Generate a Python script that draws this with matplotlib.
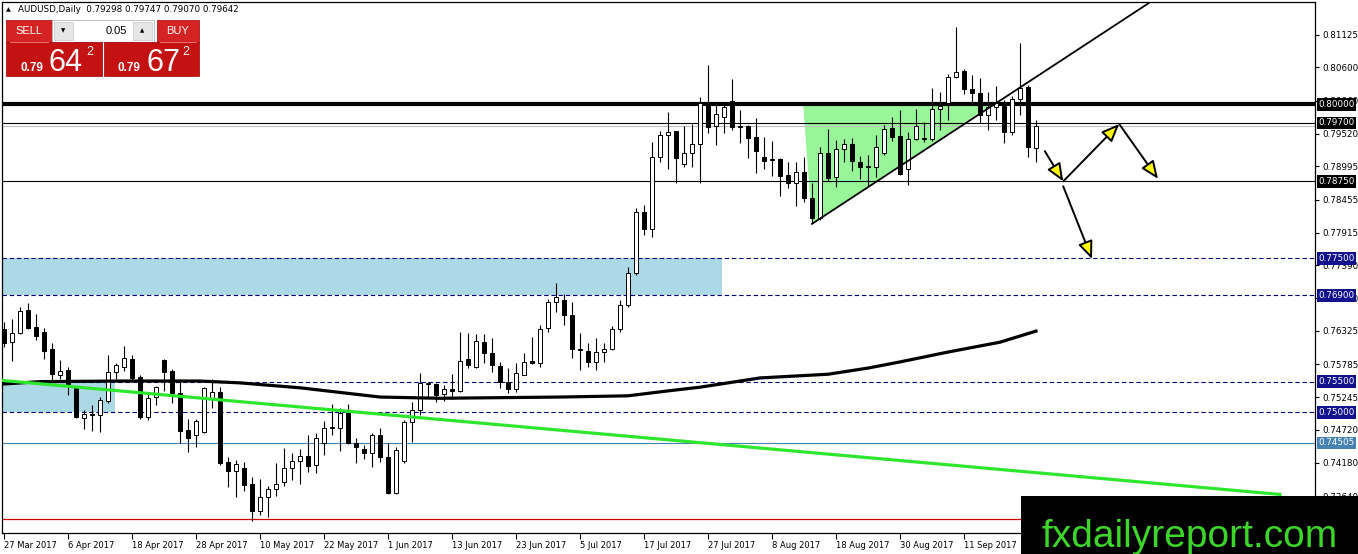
import matplotlib
matplotlib.use('Agg')
import matplotlib.pyplot as plt
import matplotlib.patches as patches
from matplotlib import font_manager
import numpy as np

# daily AUDUSD bars, 27 Mar 2017 .. 22 Sep 2017
OPEN = [.7636, .7614, .7629, .7666, .7639, .7631, .7603, .7561, .7569, .7541,
        .7491, .7498, .7496, .7519, .7566, .7574, .7587, .7558, .7493, .7525,
        .7585, .7567, .7532, .7472, .7464, .7468, .7524, .7533, .7420, .7405,
        .7410, .7384, .7340, .7363, .7376, .7387, .7410, .7421, .7429, .7415,
        .7451, .7475, .7475, .7499, .7451, .7441, .7434, .7464, .7428, .7369,
        .7421, .7485, .7504, .7546, .7546, .7530, .7538, .7535, .7587, .7574,
        .7614, .7597, .7576, .7550, .7538, .7561, .7584, .7580, .7637, .7680,
        .7683, .7658, .7603, .7600, .7582, .7598, .7603, .7636, .7674, .7726,
        .7825, .7798, .7915, .7950, .7956, .7903, .7921, .7936, .8002, .7965,
        .7980, .8005, .7965, .7965, .7947, .7915, .7912, .7912, .7885, .7872,
        .7890, .7848, .7816, .7921, .7882, .7928, .7936, .7906, .7899, .7898,
        .7921, .7962, .7949, .7895, .7944, .7945, .7943, .7992, .8002, .8044,
        .8054, .8025, .8018, .7983, .7996, .7997, .7955, .8009, .8028, .79298]
HIGH = [.7647, .7652, .7671, .7678, .7660, .7637, .7613, .7585, .7574, .7543,
        .7504, .7512, .7525, .7593, .7580, .7608, .7593, .7560, .7530, .7543,
        .7587, .7570, .7554, .7489, .7490, .7541, .7554, .7541, .7428, .7423,
        .7420, .7395, .7392, .7381, .7418, .7442, .7434, .7441, .7464, .7467,
        .7486, .7514, .7507, .7514, .7459, .7447, .7467, .7475, .7451, .7444,
        .7488, .7517, .7564, .7550, .7547, .7544, .7562, .7631, .7629, .7627,
        .7627, .7621, .7582, .7572, .7580, .7597, .7623, .7642, .7684, .7710,
        .7692, .7679, .7629, .7613, .7621, .7613, .7640, .7683, .7736, .7832,
        .7837, .7939, .7957, .7988, .7957, .7965, .7968, .8012, .8064, .8004,
        .8002, .8041, .7991, .7966, .7978, .7947, .7941, .7913, .7907, .7907,
        .7915, .7872, .7931, .7960, .7942, .7944, .7945, .7916, .7918, .7950,
        .7966, .7980, .7991, .7955, .7992, .7971, .8027, .8020, .8049, .8125,
        .8057, .8048, .8043, .8020, .8029, .8007, .8014, .8100, .8031, .79747]
LOW = [.7606, .7584, .7627, .7635, .7618, .7587, .7550, .7554, .7528, .7491,
       .7473, .7470, .7468, .7515, .7554, .7567, .7553, .7489, .7488, .7512,
       .7535, .7515, .7451, .7436, .7444, .7466, .7507, .7415, .7379, .7363,
       .7373, .7324, .7334, .7331, .7365, .7381, .7391, .7384, .7403, .7402,
       .7431, .7464, .7438, .7449, .7418, .7425, .7412, .7420, .7368, .7367,
       .7418, .7452, .7496, .7525, .7517, .7518, .7522, .7533, .7572, .7572,
       .7580, .7566, .7540, .7532, .7533, .7560, .7579, .7574, .7630, .7663,
       .7642, .7588, .7569, .7574, .7569, .7582, .7601, .7631, .7671, .7723,
       .7788, .7785, .7906, .7895, .7872, .7898, .7898, .7872, .7954, .7934,
       .7954, .7958, .7937, .7913, .7889, .7895, .7884, .7851, .7864, .7835,
       .7842, .7808, .7813, .7876, .7866, .7906, .7892, .7879, .7866, .7882,
       .7918, .7940, .7885, .7869, .7942, .7939, .7940, .7958, .7975, .8042,
       .8017, .8004, .7970, .7958, .7975, .7937, .7950, .7983, .7914, .79070]
CLOSE = [.7613, .7629, .7665, .7637, .7624, .7600, .7563, .7567, .7546, .7493,
         .7498, .7496, .7520, .7566, .7577, .7588, .7556, .7493, .7524, .7541,
         .7566, .7532, .7470, .7459, .7486, .7540, .7533, .7418, .7405, .7416,
         .7382, .7340, .7363, .7376, .7384, .7410, .7421, .7429, .7413, .7459,
         .7475, .7476, .7499, .7451, .7444, .7434, .7464, .7428, .7369, .7439,
         .7485, .7504, .7548, .7548, .7528, .7538, .7535, .7584, .7577, .7616,
         .7597, .7577, .7550, .7538, .7564, .7582, .7580, .7636, .7679, .7687,
         .7658, .7603, .7602, .7582, .7598, .7603, .7636, .7674, .7726, .7825,
         .7798, .7915, .7950, .7955, .7913, .7921, .7936, .8002, .7963, .7984,
         .7996, .7963, .7963, .7945, .7924, .7908, .7910, .7884, .7872, .7890,
         .7848, .7816, .7921, .7880, .7928, .7936, .7908, .7898, .7900, .7931,
         .7960, .7947, .7887, .7944, .7965, .7943, .7992, .7997, .8044, .8052,
         .8025, .8018, .7983, .7996, .8002, .7955, .8009, .8027, .7930, .79642]

DATE_LABELS = ['27 Mar 2017', '6 Apr 2017', '18 Apr 2017', '28 Apr 2017',
               '10 May 2017', '22 May 2017', '1 Jun 2017', '13 Jun 2017',
               '23 Jun 2017', '5 Jul 2017', '17 Jul 2017', '27 Jul 2017',
               '8 Aug 2017', '18 Aug 2017', '30 Aug 2017', '11 Sep 2017']
PRICE_TICKS = [0.81125, 0.80600, 0.80060, 0.79520, 0.78995, 0.78455, 0.77915,
               0.77390, 0.76850, 0.76325, 0.75785, 0.75245, 0.74720, 0.74180,
               0.73640]

# moving average (bar index, value)
MA_X = [-0.25, 4.5, 14.5, 24.5, 29.5, 37, 47, 54.5, 69.5, 78, 83, 87, 94.5,
        103, 108, 112, 118, 124.5, 129]
MA_Y = [0.7546, 0.7550, 0.7551, 0.7551, 0.7548, 0.7540, 0.7525, 0.7523,
        0.7525, 0.7527, 0.7535, 0.7541, 0.7556, 0.7562, 0.7572, 0.7582,
        0.7598, 0.7614, 0.7632]

GREEN_TREND = ([-0.25, 159.5], [0.7552, 0.7367])
BLACK_TREND = ([101, 148], [0.7806, 0.8206])
TRIANGLE = [(99.9, 0.8000), (101, 0.7806), (123.5, 0.8000)]
ARROWS = [((130.1, 0.7924), (132.4, 0.7875)),
          ((132.4, 0.7875), (139.4, 0.7968)),
          ((139.4, 0.7968), (144.25, 0.7879)),
          ((132.4, 0.7867), (136.0, 0.7749))]

ZONE_HI = (-0.25, 89.75, 0.7690, 0.7750)
ZONE_LO = (-0.25, 13.875, 0.7500, 0.7550)

LEVEL_LABELS = [(0.80000, 'black'), (0.79700, 'black'), (0.78750, 'black'),
                (0.77500, '#12128f'), (0.76900, '#12128f'),
                (0.75500, '#12128f'), (0.75000, '#12128f'),
                (0.74505, '#4682b4')]

W, H = 1358, 554
FONT = 'DejaVu Sans'

fig = plt.figure(figsize=(W / 100, H / 100), dpi=100)
fig.patch.set_facecolor('white')
ax = fig.add_axes([2 / W, 1 - 533 / H, 1313 / W, 531 / H])
ax.set_xlim(-0.25, 163.875)
ax.set_ylim(0.73044, 0.81660)

# zones
for x0, x1, y0, y1 in (ZONE_HI, ZONE_LO):
    ax.add_patch(patches.Rectangle((x0, y0), x1 - x0, y1 - y0,
                                   fc='#add8e6', ec='none', zorder=0.5))
ax.add_patch(patches.Polygon(TRIANGLE, closed=True, fc='#98f598', ec='none',
                             zorder=0.6))

# horizontal levels
dash = (0, (4, 2.5))
ax.axhline(0.8000, color='black', lw=3.0, zorder=2)
ax.axhline(0.7970, color='black', lw=0.8, zorder=2)
ax.axhline(CLOSE[-1], color='#c0c0c0', lw=0.8, zorder=1.5)
ax.axhline(0.7875, color='black', lw=0.8, zorder=2)
for lv in (0.7750, 0.7690, 0.7550, 0.7500):
    ax.axhline(lv, color='#000080', lw=0.8, ls=dash, zorder=2)
ax.axhline(0.74505, color='#4682b4', lw=0.8, zorder=2)
ax.axhline(0.7327, color='#cc0000', lw=0.9, zorder=2)

# candles
o = np.array(OPEN)
c = np.array(CLOSE)
idx = np.arange(len(o))
up = c >= o
ax.vlines(idx, LOW, HIGH, color='black', lw=0.8, zorder=3)
body_lo = np.minimum(o, c)
body_h = np.maximum(np.abs(c - o), 0.00004)
ax.bar(idx, body_h, bottom=body_lo, width=0.6,
       color=np.where(up, 'white', 'black'), edgecolor='black', lw=0.7,
       zorder=4)

# trend lines and moving average
ax.plot(MA_X, MA_Y, color='black', lw=2.3, zorder=5)
ax.plot(*GREEN_TREND, color='#2ee62e', lw=2.3, zorder=5)
ax.plot(*BLACK_TREND, color='black', lw=1.3, zorder=5)

for a, b in ARROWS:
    ax.add_patch(patches.FancyArrowPatch(
        a, b, arrowstyle='-|>,head_length=0.6,head_width=0.25',
        mutation_scale=18, fc='#ffff00', ec='black', lw=1.4,
        shrinkA=0, shrinkB=0, zorder=6))

# axes styling
for sp in ax.spines.values():
    sp.set_color('black')
    sp.set_linewidth(0.9)
ax.yaxis.tick_right()
ax.set_yticks(PRICE_TICKS)
ax.set_yticklabels(['{:.5f}'.format(v) for v in PRICE_TICKS])
ax.tick_params(axis='y', direction='out', length=3, width=0.8, pad=2,
               labelsize=6.3)
ax.set_xticks(np.arange(0, 8 * len(DATE_LABELS), 8))
ax.set_xticklabels(DATE_LABELS)
ax.tick_params(axis='x', direction='out', length=4, width=0.8, pad=2,
               labelsize=6.0)
for lb in ax.get_xticklabels():
    lb.set_horizontalalignment('left')
    lb.set_fontfamily(FONT)
for lb in ax.get_yticklabels():
    lb.set_fontfamily(FONT)

for val, col in LEVEL_LABELS:
    ax.text(1.0025, val, '{:.5f}'.format(val), transform=ax.get_yaxis_transform(),
            ha='left', va='center', color='white', fontsize=6.3, family=FONT,
            clip_on=False, zorder=7,
            bbox=dict(boxstyle='square,pad=0.2', fc=col, ec='none'))


# figure-level widgets (pixel helpers)
def fx(x):
    return x / W


def fy(y):
    return 1 - y / H


def box(x0, y0, x1, y1, **kw):
    fig.add_artist(patches.Rectangle((fx(x0), fy(y1)), (x1 - x0) / W,
                                     (y1 - y0) / H, transform=fig.transFigure,
                                     zorder=10, **kw))


fig.text(fx(6), fy(10), '\u25b2', fontsize=4.5, va='center', family=FONT)
fig.text(fx(18), fy(10), 'AUDUSD,Daily  0.79298 0.79747 0.79070 0.79642',
         fontsize=6.3, va='center', family=FONT)

PANEL = 'Liberation Sans'
red_top = '#d52222'
red_low = '#c41212'
box(6, 20, 52, 42, fc=red_top, ec='#a00000', lw=0.5)
box(157, 20, 199, 42, fc=red_top, ec='#a00000', lw=0.5)
box(52, 20, 154, 42, fc='white', ec='#b8b8b8', lw=0.6)
box(54, 22, 73, 40, fc='#e6e6e6', ec='#c8c8c8', lw=0.5)
box(133, 22, 152, 40, fc='#e6e6e6', ec='#c8c8c8', lw=0.5)
box(6, 42, 102, 76, fc=red_low, ec='#a00000', lw=0.5)
box(104, 42, 199, 76, fc=red_low, ec='#a00000', lw=0.5)
fig.add_artist(plt.Line2D([fx(10), fx(48)], [fy(41.5), fy(41.5)],
                          color='#f08080', lw=0.6, zorder=11))
fig.add_artist(plt.Line2D([fx(160), fx(196)], [fy(41.5), fy(41.5)],
                          color='#f08080', lw=0.6, zorder=11))
fig.text(fx(29), fy(31), 'SELL', color='white', ha='center', va='center',
         fontsize=8, family=PANEL, zorder=12)
fig.text(fx(178), fy(31), 'BUY', color='white', ha='center', va='center',
         fontsize=8, family=PANEL, zorder=12)
fig.text(fx(63.5), fy(31), '\u25bc', ha='center', va='center', fontsize=4,
         family=FONT, zorder=12)
fig.text(fx(142.5), fy(31), '\u25b2', ha='center', va='center', fontsize=4,
         family=FONT, zorder=12)
fig.text(fx(127), fy(31), '0.05', ha='right', va='center', fontsize=8,
         family=PANEL, zorder=12)
for x_small, x_big, x_sup, big in ((32, 65, 90, '64'), (129, 163, 186, '67')):
    fig.text(fx(x_small), fy(71), '0.79', color='white', ha='center',
             va='baseline', fontsize=8.5, weight='bold', family=PANEL, zorder=12)
    fig.text(fx(x_big), fy(71), big, color='white', ha='center',
             va='baseline', fontsize=22, family=PANEL, zorder=12)
    fig.text(fx(x_sup), fy(55), '2', color='white', ha='center',
             va='baseline', fontsize=9, family=PANEL, zorder=12)

# watermark
names = {f.name for f in font_manager.fontManager.ttflist}
if 'Liberation Sans Narrow' in names:
    wm_font, wm_size = 'Liberation Sans Narrow', 36
else:
    wm_font, wm_size = 'Liberation Sans', 28
box(1021, 496, 1358, 554, fc='black', ec='none')
fig.text(fx(1190), fy(547), 'fxdailyreport.com', color='#3cd628',
         ha='center', va='baseline', fontsize=wm_size, family=wm_font,
         zorder=12)

fig.savefig('out.png', dpi=100)
